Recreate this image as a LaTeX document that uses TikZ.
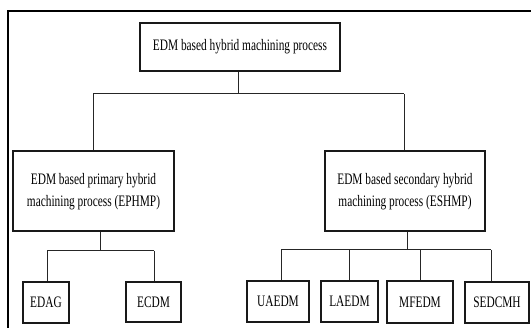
\documentclass[tikz,border=0pt]{standalone}
\usepackage{fontspec}
\setmainfont{Liberation Serif}
\usepackage{graphicx}
\newcommand{\sqz}[1]{\scalebox{0.71}[1]{#1}}
\newcommand{\twoline}[2]{\sqz{\begin{tabular}{@{}c@{}}#1\\#2\end{tabular}}}
\begin{document}
\begin{tikzpicture}[x=1pt,y=-1pt,
  box/.style={draw=black!90,line width=1.2pt,fill=white,inner sep=0pt,
    font=\fontsize{16}{22}\selectfont},
  conn/.style={draw=black!85,line width=1pt},
  frame/.style={draw=black,line width=2.5pt}]
\useasboundingbox (0,0) rectangle (531,328);
\fill[white] (0,0) rectangle (531,328);
\draw[frame] (8,328) -- (8,11) -- (531,11);

\node[box,minimum width=200pt,minimum height=48pt] (top) at (240,47) {\sqz{EDM based hybrid machining process}};
\node[box,minimum width=161pt,minimum height=80pt] (ephmp) at (93.5,191) {\twoline{EDM based primary hybrid}{machining process (EPHMP)}};
\node[box,minimum width=160pt,minimum height=80pt] (eshmp) at (405,191) {\twoline{EDM based secondary hybrid}{machining process (ESHMP)}};

\node[box,minimum width=46pt,minimum height=41pt] (edag) at (46,302.5) {\sqz{EDAG}};
\node[box,minimum width=55pt,minimum height=40pt] (ecdm) at (153.5,302) {\sqz{ECDM}};
\node[box,minimum width=62pt,minimum height=41pt] (uaedm) at (278,301.5) {\sqz{UAEDM}};
\node[box,minimum width=57pt,minimum height=41pt] (laedm) at (349.5,301.5) {\sqz{LAEDM}};
\node[box,minimum width=66pt,minimum height=42pt] (mfedm) at (420,302) {\sqz{MFEDM}};
\node[box,minimum width=64pt,minimum height=41pt] (sedcmh) at (497,302.5) {\sqz{SEDCMH}};

% level 1 connectors
\coordinate (j0) at (238,94);
\coordinate (j0l) at (93,94);
\coordinate (j0r) at (404,94);
\draw[conn] (top.south -| j0) -- (j0);
\draw[conn] (j0l) -- (j0r);
\draw[conn] (j0l) -- (ephmp.north -| j0l);
\draw[conn] (j0r) -- (eshmp.north -| j0r);

% left branch
\coordinate (j1) at (100,251);
\coordinate (j1a) at (47,251);
\coordinate (j1b) at (154,251);
\draw[conn] (ephmp.south -| j1) -- (j1);
\draw[conn] (j1a) -- (j1b);
\draw[conn] (j1a) -- (edag.north -| j1a);
\draw[conn] (j1b) -- (ecdm.north -| j1b);

% right branch
\coordinate (j2) at (407,250);
\coordinate (j2a) at (281,250);
\coordinate (j2b) at (349,250);
\coordinate (j2c) at (420,250);
\coordinate (j2d) at (491,250);
\draw[conn] (eshmp.south -| j2) -- (j2);
\draw[conn] (j2a) -- (j2d);
\draw[conn] (j2a) -- (uaedm.north -| j2a);
\draw[conn] (j2b) -- (laedm.north -| j2b);
\draw[conn] (j2c) -- (mfedm.north -| j2c);
\draw[conn] (j2d) -- (sedcmh.north -| j2d);
\end{tikzpicture}
\end{document}
